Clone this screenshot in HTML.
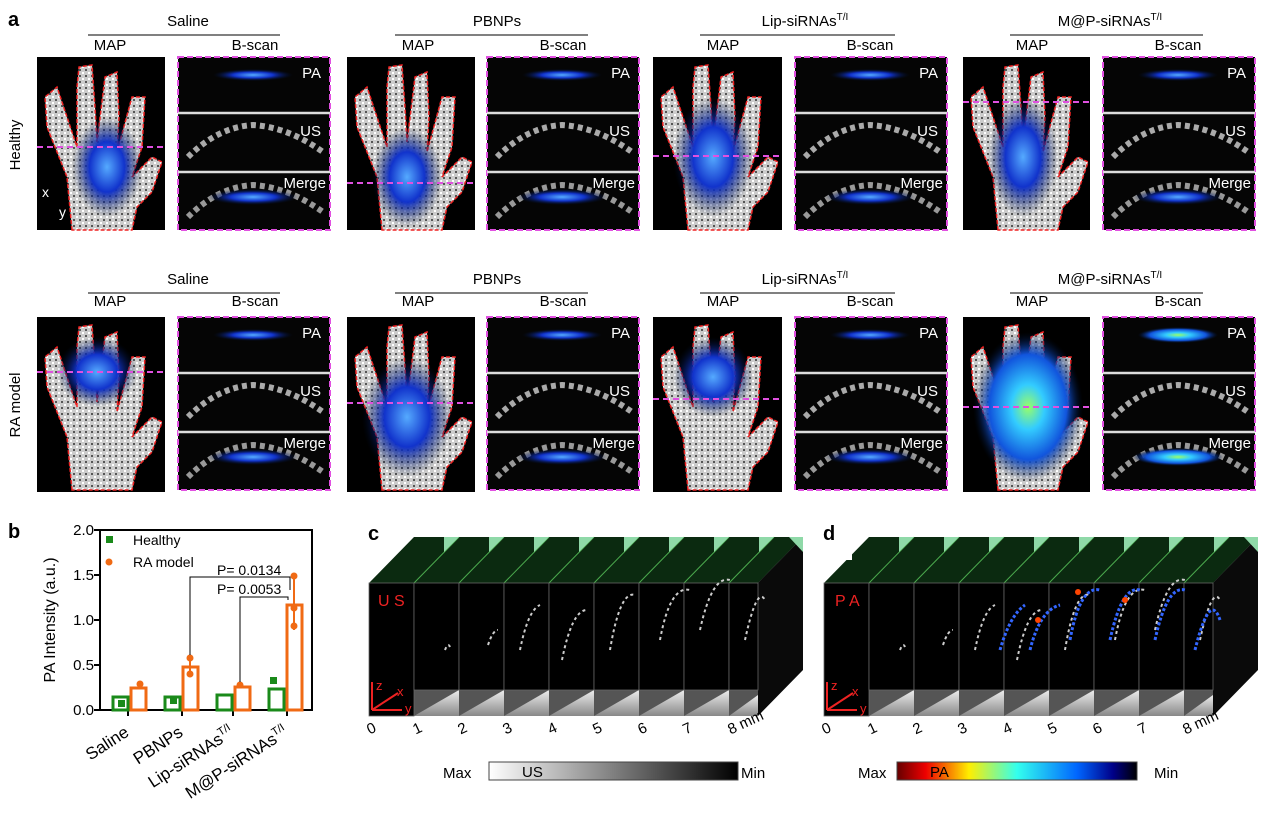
<!DOCTYPE html>
<html><head><meta charset="utf-8"><style>
body{margin:0;background:#fff;width:1270px;height:813px;overflow:hidden}
svg{font-family:"Liberation Sans",Arial,sans-serif}
</style></head><body>
<svg width="1270" height="813" viewBox="0 0 1270 813" xmlns="http://www.w3.org/2000/svg">
<defs>
<radialGradient id="bl"><stop offset="0" stop-color="#5af"/><stop offset="0.5" stop-color="#13c"/><stop offset="1" stop-color="#013" stop-opacity="0"/></radialGradient>
<radialGradient id="blh"><stop offset="0" stop-color="#9f6"/><stop offset="0.3" stop-color="#3cf"/><stop offset="0.7" stop-color="#15d"/><stop offset="1" stop-color="#013" stop-opacity="0"/></radialGradient>
<linearGradient id="usg" x1="0" x2="1"><stop offset="0" stop-color="#fff"/><stop offset="1" stop-color="#000"/></linearGradient>
<linearGradient id="pag" x1="0" x2="1"><stop offset="0" stop-color="#600"/><stop offset="0.12" stop-color="#e00"/><stop offset="0.3" stop-color="#fe0"/><stop offset="0.5" stop-color="#3fe"/><stop offset="0.75" stop-color="#06f"/><stop offset="0.9" stop-color="#008"/><stop offset="1" stop-color="#000"/></linearGradient>
<linearGradient id="gry" x1="0" y1="0" x2="0" y2="1"><stop offset="0" stop-color="#eee"/><stop offset="1" stop-color="#888"/></linearGradient>
<pattern id="spk" width="6" height="6" patternUnits="userSpaceOnUse"><rect width="6" height="6" fill="#ccc"/><rect x="0" y="0" width="2" height="2" fill="#555"/><rect x="3" y="3" width="2" height="2" fill="#fff"/></pattern>
<g id="hand">
<path d="M35,173 L30,120 L10,70 L8,40 L20,30 L30,60 L40,90 L40,30 L42,10 L55,8 L58,50 L60,85 L68,20 L80,15 L82,60 L80,95 L95,40 L108,40 L105,90 L95,120 L115,100 L125,105 L115,135 L100,150 L95,173 Z" fill="url(#spk)" stroke="#e22" stroke-width="1.5" stroke-dasharray="4,2"/>
</g>
<g id="bscan">
<rect x="0" y="0" width="152" height="173" fill="#050505" stroke="#e050e0" stroke-width="2" stroke-dasharray="6,3"/>
<line x1="0" y1="56" x2="152" y2="56" stroke="#ddd" stroke-width="2.5"/>
<line x1="0" y1="115" x2="152" y2="115" stroke="#ddd" stroke-width="2.5"/>
<path d="M10,100 Q40,70 75,68 Q110,70 145,95" stroke="#aaa" stroke-width="6" fill="none" stroke-dasharray="5,4"/>
<path d="M10,160 Q40,130 75,128 Q110,130 145,155" stroke="#999" stroke-width="6" fill="none" stroke-dasharray="5,4"/>
<ellipse cx="75" cy="18" rx="40" ry="6" fill="url(#bl)"/>
<ellipse cx="75" cy="140" rx="45" ry="8" fill="url(#bl)"/>
<text x="143" y="21" font-size="15" fill="#fff" text-anchor="end">PA</text>
<text x="143" y="79" font-size="15" fill="#fff" text-anchor="end">US</text>
<text x="148" y="131" font-size="15" fill="#fff" text-anchor="end">Merge</text>
</g>
</defs>

<text x="8" y="26" font-size="20" font-weight="bold">a</text>
<text x="20" y="145" font-size="15" transform="rotate(-90 20 145)" text-anchor="middle">Healthy</text>
<text x="20" y="405" font-size="15" transform="rotate(-90 20 405)" text-anchor="middle">RA model</text>

<g font-size="15">
<text x="188" y="26" text-anchor="middle">Saline</text><line x1="88" y1="35" x2="280" y2="35" stroke="#000"/>
<text x="497" y="26" text-anchor="middle">PBNPs</text><line x1="395" y1="35" x2="588" y2="35" stroke="#000"/>
<text x="805" y="26" text-anchor="middle">Lip-siRNAs<tspan font-size="10" dy="-6">T/I</tspan></text><line x1="700" y1="35" x2="895" y2="35" stroke="#000"/>
<text x="1110" y="26" text-anchor="middle">M@P-siRNAs<tspan font-size="10" dy="-6">T/I</tspan></text><line x1="1010" y1="35" x2="1203" y2="35" stroke="#000"/>
<text x="110" y="50" text-anchor="middle">MAP</text><text x="255" y="50" text-anchor="middle">B-scan</text>
<text x="418" y="50" text-anchor="middle">MAP</text><text x="563" y="50" text-anchor="middle">B-scan</text>
<text x="723" y="50" text-anchor="middle">MAP</text><text x="870" y="50" text-anchor="middle">B-scan</text>
<text x="1032" y="50" text-anchor="middle">MAP</text><text x="1178" y="50" text-anchor="middle">B-scan</text>

<text x="188" y="284" text-anchor="middle">Saline</text><line x1="88" y1="293" x2="280" y2="293" stroke="#000"/>
<text x="497" y="284" text-anchor="middle">PBNPs</text><line x1="395" y1="293" x2="588" y2="293" stroke="#000"/>
<text x="805" y="284" text-anchor="middle">Lip-siRNAs<tspan font-size="10" dy="-6">T/I</tspan></text><line x1="700" y1="293" x2="895" y2="293" stroke="#000"/>
<text x="1110" y="284" text-anchor="middle">M@P-siRNAs<tspan font-size="10" dy="-6">T/I</tspan></text><line x1="1010" y1="293" x2="1203" y2="293" stroke="#000"/>
<text x="110" y="306" text-anchor="middle">MAP</text><text x="255" y="306" text-anchor="middle">B-scan</text>
<text x="418" y="306" text-anchor="middle">MAP</text><text x="563" y="306" text-anchor="middle">B-scan</text>
<text x="723" y="306" text-anchor="middle">MAP</text><text x="870" y="306" text-anchor="middle">B-scan</text>
<text x="1032" y="306" text-anchor="middle">MAP</text><text x="1178" y="306" text-anchor="middle">B-scan</text>
</g>

<g transform="translate(37,57)"><rect width="128" height="173" fill="#000"/><use href="#hand"/><ellipse cx="70" cy="110" rx="35" ry="50" fill="url(#bl)"/><line x1="0" y1="90" x2="128" y2="90" stroke="#e050e0" stroke-width="2" stroke-dasharray="6,4"/><text x="5" y="140" font-size="14" fill="#fff">x</text><text x="22" y="160" font-size="14" fill="#fff">y</text></g>
<g transform="translate(347,57)"><rect width="128" height="173" fill="#000"/><use href="#hand"/><ellipse cx="60" cy="120" rx="35" ry="50" fill="url(#bl)"/><line x1="0" y1="126" x2="128" y2="126" stroke="#e050e0" stroke-width="2" stroke-dasharray="6,4"/></g>
<g transform="translate(653,57)"><rect width="129" height="173" fill="#000"/><use href="#hand"/><ellipse cx="60" cy="100" rx="40" ry="60" fill="url(#bl)"/><line x1="0" y1="99" x2="129" y2="99" stroke="#e050e0" stroke-width="2" stroke-dasharray="6,4"/></g>
<g transform="translate(963,57)"><rect width="127" height="173" fill="#000"/><use href="#hand"/><ellipse cx="60" cy="100" rx="35" ry="60" fill="url(#bl)"/><line x1="0" y1="45" x2="127" y2="45" stroke="#e050e0" stroke-width="2" stroke-dasharray="6,4"/></g>
<g transform="translate(178,57)"><use href="#bscan"/></g>
<g transform="translate(487,57)"><use href="#bscan"/></g>
<g transform="translate(795,57)"><use href="#bscan"/></g>
<g transform="translate(1103,57)"><use href="#bscan"/></g>

<g transform="translate(37,317)"><rect width="128" height="175" fill="#000"/><use href="#hand"/><ellipse cx="60" cy="55" rx="40" ry="35" fill="url(#bl)"/><line x1="0" y1="55" x2="128" y2="55" stroke="#e050e0" stroke-width="2" stroke-dasharray="6,4"/></g>
<g transform="translate(347,317)"><rect width="128" height="175" fill="#000"/><use href="#hand"/><ellipse cx="60" cy="100" rx="45" ry="60" fill="url(#bl)"/><line x1="0" y1="86" x2="128" y2="86" stroke="#e050e0" stroke-width="2" stroke-dasharray="6,4"/></g>
<g transform="translate(653,317)"><rect width="129" height="175" fill="#000"/><use href="#hand"/><ellipse cx="60" cy="60" rx="40" ry="40" fill="url(#bl)"/><line x1="0" y1="82" x2="129" y2="82" stroke="#e050e0" stroke-width="2" stroke-dasharray="6,4"/></g>
<g transform="translate(963,317)"><rect width="127" height="175" fill="#000"/><use href="#hand"/><ellipse cx="65" cy="90" rx="55" ry="75" fill="url(#blh)"/><line x1="0" y1="90" x2="127" y2="90" stroke="#e050e0" stroke-width="2" stroke-dasharray="6,4"/></g>
<g transform="translate(178,317)"><use href="#bscan"/></g>
<g transform="translate(487,317)"><use href="#bscan"/></g>
<g transform="translate(795,317)"><use href="#bscan"/></g>
<g transform="translate(1103,317)"><use href="#bscan"/><ellipse cx="75" cy="18" rx="40" ry="8" fill="url(#blh)"/><ellipse cx="75" cy="140" rx="45" ry="9" fill="url(#blh)"/></g>

<text x="8" y="538" font-size="20" font-weight="bold">b</text>
<rect x="100" y="530" width="212" height="180" fill="none" stroke="#000" stroke-width="2"/>
<g font-size="15" text-anchor="end">
<text x="94" y="715">0.0</text><text x="94" y="670">0.5</text><text x="94" y="625">1.0</text><text x="94" y="580">1.5</text><text x="94" y="535">2.0</text>
</g>
<g stroke="#000" stroke-width="2"><line x1="94" y1="710" x2="100" y2="710"/><line x1="94" y1="665" x2="100" y2="665"/><line x1="94" y1="620" x2="100" y2="620"/><line x1="94" y1="575" x2="100" y2="575"/><line x1="94" y1="530" x2="100" y2="530"/>
<line x1="128" y1="710" x2="128" y2="716"/><line x1="182" y1="710" x2="182" y2="716"/><line x1="233" y1="710" x2="233" y2="716"/><line x1="287" y1="710" x2="287" y2="716"/></g>
<text x="55" y="620" font-size="16" transform="rotate(-90 55 620)" text-anchor="middle">PA Intensity (a.u.)</text>
<g fill="none" stroke-width="3">
<rect x="113" y="697" width="15" height="13" stroke="#1a8a1a"/><rect x="131" y="688" width="15" height="22" stroke="#f06a14"/>
<rect x="165" y="697" width="15" height="13" stroke="#1a8a1a"/><rect x="183" y="667" width="15" height="43" stroke="#f06a14"/>
<rect x="217" y="695" width="15" height="15" stroke="#1a8a1a"/><rect x="235" y="687" width="15" height="23" stroke="#f06a14"/>
<rect x="269" y="689" width="15" height="21" stroke="#1a8a1a"/><rect x="287" y="605" width="15" height="105" stroke="#f06a14"/>
</g>
<g stroke="#f06a14" stroke-width="2"><line x1="294" y1="576" x2="294" y2="630"/><line x1="190" y1="658" x2="190" y2="676"/></g>
<g fill="#f06a14"><circle cx="294" cy="576" r="3.5"/><circle cx="294" cy="608" r="3.5"/><circle cx="294" cy="626" r="3.5"/><circle cx="190" cy="658" r="3.5"/><circle cx="190" cy="674" r="3.5"/><circle cx="240" cy="685" r="3.5"/><circle cx="140" cy="684" r="3.5"/></g>
<g fill="#1a8a1a"><rect x="106" y="536" width="7" height="7"/><rect x="270" y="677" width="7" height="7"/><rect x="118" y="700" width="7" height="7"/><rect x="170" y="697" width="7" height="7"/></g>
<circle cx="109" cy="562" r="3.5" fill="#f06a14"/>
<text x="133" y="545" font-size="14">Healthy</text><text x="133" y="567" font-size="14">RA model</text>
<g stroke="#000" fill="none" stroke-width="1"><path d="M190,655 V577 H290 V590"/><path d="M240,682 V597 H288 V600"/></g>
<text x="217" y="575" font-size="14">P= 0.0134</text><text x="217" y="594" font-size="14">P= 0.0053</text>
<g font-size="17" text-anchor="end">
<text x="130" y="735" transform="rotate(-33 130 735)">Saline</text>
<text x="184" y="735" transform="rotate(-33 184 735)">PBNPs</text>
<text x="235" y="735" transform="rotate(-33 235 735)">Lip-siRNAs<tspan font-size="11" dy="-7">T/I</tspan></text>
<text x="289" y="735" transform="rotate(-33 289 735)">M@P-siRNAs<tspan font-size="11" dy="-7">T/I</tspan></text>
</g>

<g id="cube">
<text x="368" y="540" font-size="20" font-weight="bold">c</text>
<polygon points="369,583 414,537 803,537 758,583" fill="#0b2a10"/>
<polygon points="369,716 414,670 803,670 803,537 758,583 758,716" fill="#555"/>
<polygon points="758,583 803,537 803,670 758,716" fill="#0a0a0a"/>
<g stroke="#7f7" stroke-width="1" opacity="0.6">
<line x1="414" y1="583" x2="459" y2="537"/><line x1="459" y1="583" x2="504" y2="537"/><line x1="504" y1="583" x2="549" y2="537"/><line x1="549" y1="583" x2="594" y2="537"/><line x1="594" y1="583" x2="639" y2="537"/><line x1="639" y1="583" x2="684" y2="537"/><line x1="684" y1="583" x2="729" y2="537"/><line x1="729" y1="583" x2="774" y2="537"/>
</g>
<g fill="#8fd9a8"><polygon points="444,537 459,537 444,552"/><polygon points="489,537 504,537 489,552"/><polygon points="534,537 549,537 534,552"/><polygon points="579,537 594,537 579,552"/><polygon points="624,537 639,537 624,552"/><polygon points="669,537 684,537 669,552"/><polygon points="714,537 729,537 714,552"/><polygon points="759,537 774,537 759,552"/><polygon points="789,537 803,537 803,552"/></g>
<g fill="url(#gry)"><polygon points="414,716 459,690 459,716"/><polygon points="459,716 504,690 504,716"/><polygon points="504,716 549,690 549,716"/><polygon points="549,716 594,690 594,716"/><polygon points="594,716 639,690 639,716"/><polygon points="639,716 684,690 684,716"/><polygon points="684,716 729,690 729,716"/><polygon points="729,716 758,695 758,716"/><polygon points="369,716 414,690 414,716"/></g>
<g fill="#000" stroke="#666" stroke-width="0.8">
<rect x="369" y="583" width="45" height="133"/><rect x="414" y="583" width="45" height="107"/><rect x="459" y="583" width="45" height="107"/><rect x="504" y="583" width="45" height="107"/><rect x="549" y="583" width="45" height="107"/><rect x="594" y="583" width="45" height="107"/><rect x="639" y="583" width="45" height="107"/><rect x="684" y="583" width="45" height="107"/><rect x="729" y="583" width="29" height="107"/>
</g>
<g fill="none" stroke="#ccc" stroke-width="2" stroke-dasharray="3,3">
<path d="M445,650 q3,-8 5,-3"/><path d="M488,645 q5,-15 10,-15"/><path d="M520,650 q8,-40 20,-45"/><path d="M562,660 q10,-50 25,-50"/><path d="M610,650 q10,-60 25,-55"/><path d="M660,640 q10,-55 30,-50"/><path d="M700,630 q12,-55 30,-50"/><path d="M745,640 q12,-55 20,-40"/>
</g>
<text x="378" y="606" font-size="16" fill="#e22">U S</text>
<g stroke="#e22" stroke-width="2" fill="none"><path d="M372,710 V682"/><path d="M372,710 H402"/><path d="M372,710 L398,693"/></g>
<text x="376" y="690" font-size="13" fill="#e22">z</text><text x="397" y="696" font-size="13" fill="#e22">x</text><text x="405" y="713" font-size="13" fill="#e22">y</text>
<g font-size="15"><text x="367" y="733" transform="rotate(-25 372 728)">0</text><text x="413" y="733" transform="rotate(-25 418 728)">1</text><text x="458" y="733" transform="rotate(-25 463 728)">2</text><text x="503" y="733" transform="rotate(-25 508 728)">3</text><text x="548" y="733" transform="rotate(-25 553 728)">4</text><text x="593" y="733" transform="rotate(-25 598 728)">5</text><text x="638" y="733" transform="rotate(-25 643 728)">6</text><text x="683" y="733" transform="rotate(-25 688 728)">7</text><text x="728" y="733" transform="rotate(-25 733 728)">8 mm</text></g>
</g>
<rect x="489" y="762" width="249" height="18" fill="url(#usg)" stroke="#444"/>
<text x="443" y="778" font-size="15">Max</text><text x="522" y="777" font-size="15">US</text><text x="741" y="778" font-size="15">Min</text>

<use href="#cube" transform="translate(455,0)"/>
<rect x="822" y="520" width="30" height="40" fill="#fff"/>
<text x="823" y="540" font-size="20" font-weight="bold">d</text>
<rect x="834" y="588" width="30" height="24" fill="#000"/>
<text x="835" y="606" font-size="16" fill="#e22">P A</text>
<g fill="none" stroke="#36f" stroke-width="3" stroke-dasharray="3,2">
<path d="M1000,650 q10,-35 25,-45"/><path d="M1030,650 q10,-40 30,-45"/><path d="M1070,640 q10,-55 30,-50"/><path d="M1110,640 q12,-55 30,-50"/><path d="M1155,640 q12,-55 30,-50"/><path d="M1195,650 q15,-60 25,-30"/></g>
<g fill="#f40"><circle cx="1038" cy="620" r="3"/><circle cx="1078" cy="592" r="3"/><circle cx="1125" cy="600" r="3"/></g>
<rect x="897" y="762" width="240" height="18" fill="url(#pag)" stroke="#444"/>
<text x="858" y="778" font-size="15">Max</text><text x="930" y="777" font-size="15">PA</text><text x="1154" y="778" font-size="15">Min</text>
</svg>
</body></html>
